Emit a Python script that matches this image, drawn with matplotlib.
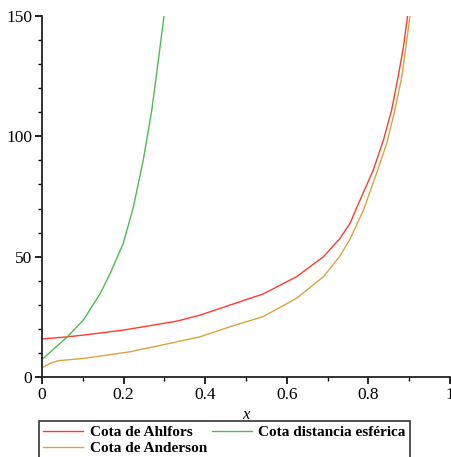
import matplotlib
matplotlib.use('Agg')
import matplotlib.pyplot as plt

# valores
ahlfors_x = [0, 0.062, 0.101, 0.2, 0.33, 0.387, 0.461, 0.542, 0.624, 0.69, 0.73, 0.755,
             0.771, 0.812, 0.837, 0.857, 0.873, 0.886, 0.896]
ahlfors_y = [15.8, 16.7, 17.4, 19.5, 23.2, 25.7, 29.9, 34.5, 41.7, 50, 57.5, 63.8,
             70.2, 86, 98.5, 110.9, 124.8, 137.2, 150]

anderson_x = [0, 0.02, 0.04, 0.101, 0.216, 0.33, 0.387, 0.461, 0.542, 0.624, 0.69, 0.73,
              0.755, 0.788, 0.82, 0.845, 0.865, 0.882, 0.892, 0.902]
anderson_y = [3.9, 5.7, 6.8, 7.7, 10.5, 14.6, 16.7, 20.9, 25.1, 32.7, 41.7, 50.2,
              57.3, 69.4, 84.6, 97.1, 110.9, 124.8, 137.2, 150]

esferica_x = [0, 0.062, 0.101, 0.122, 0.142, 0.167, 0.199, 0.224, 0.248, 0.269, 0.285, 0.299]
esferica_y = [7.3, 16.7, 23.6, 29.2, 34.5, 43, 55.5, 70.7, 90, 110.8, 131.5, 150]

x_ticks = [0, 0.2, 0.4, 0.6, 0.8, 1]
x_tick_labels = ['0', '0.2', '0.4', '0.6', '0.8', '1']
y_ticks = [0, 50, 100, 150]
y_tick_labels = ['0', '50', '100', '150']

plt.rcParams['font.family'] = ['Liberation Serif', 'DejaVu Serif']

fig = plt.figure(figsize=(4.52, 4.57), dpi=100)
ax = fig.add_axes([0.093, 0.175, 0.9025, 0.790])

l1, = ax.plot(ahlfors_x, ahlfors_y, color='#FF3B2F', lw=1.0, label='Cota de Ahlfors')
l2, = ax.plot(esferica_x, esferica_y, color='#4DBE4D', lw=1.0, label='Cota distancia esférica')
l3, = ax.plot(anderson_x, anderson_y, color='#D9A441', lw=1.0, label='Cota de Anderson')

ax.set_xlim(0, 1)
ax.set_ylim(0, 150)
ax.set_xticks(x_ticks)
ax.set_xticklabels(x_tick_labels)
ax.set_yticks(y_ticks)
ax.set_yticklabels(y_tick_labels)
ax.set_xticks([0.1, 0.3, 0.5, 0.7, 0.9], minor=True)
ax.set_yticks([v for v in range(10, 150, 10) if v % 50], minor=True)

for s in ['top', 'right']:
    ax.spines[s].set_visible(False)
for s in ['left', 'bottom']:
    ax.spines[s].set_linewidth(1.3)
    ax.spines[s].set_color('#222222')

ax.tick_params(which='major', direction='out', length=5, width=1.2, labelsize=12.5, pad=2)
ax.tick_params(which='minor', direction='out', length=3, width=1.0)

ax.set_xlabel('x', fontstyle='italic', fontsize=12, labelpad=3)

# orden por columnas: Ahlfors/Anderson en la primera, esferica en la segunda
leg = fig.legend(handles=[l1, l3, l2], loc='upper left', bbox_to_anchor=(0.086, 0.079),
                 ncol=2, frameon=True, fancybox=False, edgecolor='black',
                 prop={'weight': 'bold', 'size': 11}, handlelength=2.6,
                 handletextpad=0.45, columnspacing=0.3, labelspacing=0.15,
                 borderpad=0.3, borderaxespad=0)
leg.get_frame().set_linewidth(1.2)

fig.savefig('out.png', dpi=100)
